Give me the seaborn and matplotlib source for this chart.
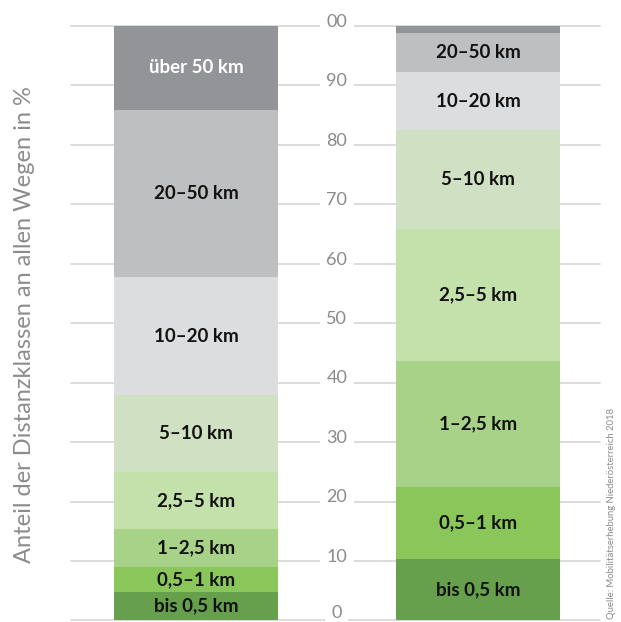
import numpy as np
import pandas as pd
import matplotlib
matplotlib.use("Agg")
import matplotlib.pyplot as plt
import seaborn as sns

# Distance classes, bottom to top
classes = ["bis 0,5 km", "0,5–1 km", "1–2,5 km", "2,5–5 km",
           "5–10 km", "10–20 km", "20–50 km", "über 50 km"]
groups = ["A", "B"]

# Share of all trips per distance class (%)
share_a = [4.8, 4.1, 6.5, 9.5, 13.0, 19.8, 28.2, 14.1]
share_b = [10.3, 12.1, 21.3, 22.2, 16.6, 9.7, 6.7, 1.1]

# Which segments carry a text label
label_a = [True] * 8
label_b = [True] * 7 + [False]

colors = ["#66a04c", "#8bc65a", "#a7d288", "#c4e0ab",
          "#d0e0c2", "#dcdddf", "#bebfc1", "#939497"]
text_colors = ["#111111"] * 7 + ["#ffffff"]

y_ticks = [0, 10, 20, 30, 40, 50, 60, 70, 80, 90, 100]
y_tick_labels = ["0", "10", "20", "30", "40", "50", "60", "70", "80", "90", "00"]

sns.set_style("white")
plt.rcParams["font.family"] = ["Lato", "DejaVu Sans"]

W, H = 621, 622
fig = plt.figure(figsize=(W / 100, H / 100), dpi=100)
ax = fig.add_axes([71 / W, (H - 620.4) / H, (600 - 71) / W, (620.4 - 26) / H])

df = pd.DataFrame({"group": np.repeat(groups, len(classes)),
                   "cls": classes * 2,
                   "share": share_a + share_b})

grid_color = "#d6d6d6"
for t in y_ticks:
    ax.axhline(t, color=grid_color, lw=1.2, zorder=0, clip_on=False)

bottoms = np.zeros(2)
for i, cls in enumerate(classes):
    sub = df[df["cls"] == cls]
    sns.barplot(data=sub, x="group", y="share", order=groups,
                color=colors[i], width=0.58, bottom=bottoms.copy(),
                saturation=1, linewidth=0, ax=ax, zorder=2)
    vals = sub.set_index("group").loc[groups, "share"].to_numpy()
    for j, (v, show) in enumerate(zip(vals, [label_a[i], label_b[i]])):
        if show:
            ax.text(j, bottoms[j] + v / 2, cls, ha="center", va="center",
                    fontsize=13.5, fontweight="bold", color=text_colors[i],
                    zorder=3)
    bottoms += vals

ax.set_xlim(-0.443, 1.433)
ax.set_ylim(0, 100)
for s in ax.spines.values():
    s.set_visible(False)
ax.set_xticks([])
ax.set_yticks([])
ax.set_xlabel("")
ax.set_ylabel("")

# value scale sits between the two columns
for t, lab in zip(y_ticks, y_tick_labels):
    dy = 1.2 if t == 0 else 0.7
    ax.text(0.5, t + dy, lab, ha="center", va="center", fontsize=13,
            color="#8a8a8a", zorder=1, clip_on=False,
            bbox=dict(facecolor="white", edgecolor="none", pad=4.5))

fig.text(25 / W, 1 - 325 / H, "Anteil der Distanzklassen an allen Wegen in %",
         rotation=90, ha="center", va="center", fontsize=17,
         color="#8c8c8c", fontweight="normal")
fig.text(611 / W, 1 - 619 / H, "Quelle: Mobilitätserhebung Niederösterreich 2018",
         rotation=90, ha="center", va="bottom", fontsize=6.8,
         color="#8a8a8a", fontweight="normal")

fig.savefig("out.png", dpi=100)
